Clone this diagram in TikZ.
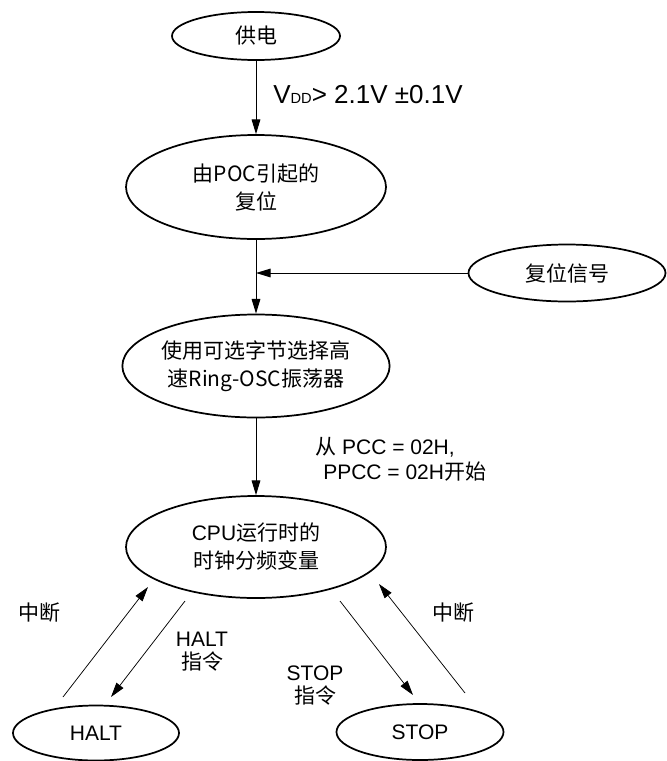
\documentclass[tikz,border=0pt]{standalone}
\usepackage{fontspec}
\setmainfont{Liberation Sans}
\newfontfamily\cjk{Noto Sans CJK SC}
\usetikzlibrary{shapes.geometric, arrows.meta, calc}

\tikzset{
  state/.style={draw, ellipse, line width=1.3pt, inner sep=0pt, align=center,
    font=\fontsize{15.75}{21}\selectfont},
  flow/.style={-{Triangle[length=11pt,width=6.5pt]}, line width=0.75pt},
  thinflow/.style={-{Triangle[length=11pt,width=6.5pt]}, line width=0.55pt},
  txt/.style={inner sep=0pt, align=center, font=\fontsize{15.75}{17.25}\selectfont}
}

\begin{document}
\begin{tikzpicture}[x=0.75pt, y=-0.75pt]
\useasboundingbox (0,0) rectangle (667,761);

% 椭圆
\node[state, minimum width=126pt, minimum height=36pt] (power) at (256,36) {{\cjk 供电}};
\node[state, minimum width=195pt, minimum height=78pt] (poc) at (256,187) {{\cjk 由POC引起的}\\{\cjk 复位}};
\node[state, minimum width=147.75pt, minimum height=42.75pt] (rstsig) at (567,273) {{\cjk 复位信号}};
\node[state, minimum width=195pt, minimum height=77.25pt] (ringosc) at (256,366) {{\cjk 使用可选字节选择高}\\{\cjk 速Ring-OSC振荡器}};
\node[state, minimum width=195pt, minimum height=76.5pt] (cpuclk) at (256,547) {CPU{\cjk 运行时的}\\{\cjk 时钟分频变量}};
\node[state, minimum width=124.5pt, minimum height=41.25pt] (halt) at (96,733) {HALT};
\node[state, minimum width=125.25pt, minimum height=42pt] (stop) at (420,732) {STOP};

% 竖直箭头
\draw[flow] (power) -- (poc);
\coordinate (join) at (poc.south |- rstsig.west);
\draw[line width=0.75pt] (poc) -- (join);
\draw[flow] (join) -- (ringosc);
\draw[flow] (rstsig) -- (join);
\draw[flow] (ringosc) -- (cpuclk);

% 标注
\node[txt, anchor=west, font=\fontsize{19.5}{21}\selectfont] (vddlbl) at (273,95)
  {V{\fontsize{11}{11}\selectfont DD}> 2.1V ±0.1V};
\node[txt, anchor=west, align=left, font=\fontsize{15.75}{18.75}\selectfont] (pcclbl) at (315,459.5)
  {{\cjk 从} PCC = 02H,\\\hspace*{6pt}PPCC = 02H{\cjk 开始}};

% 斜向箭头
\coordinate (haltirq0) at (63,697);
\coordinate (haltirq1) at (148,587);
\coordinate (haltins0) at (185,601);
\coordinate (haltins1) at (111,697);
\coordinate (stopins0) at (340,601);
\coordinate (stopins1) at (413,695);
\coordinate (stopirq0) at (465,693);
\coordinate (stopirq1) at (379,584);
\draw[thinflow] (haltirq0) -- (haltirq1);
\draw[thinflow] (haltins0) -- (haltins1);
\draw[thinflow] (stopins0) -- (stopins1);
\draw[thinflow] (stopirq0) -- (stopirq1);

\node[txt] (irqL) at (39,613) {{\cjk 中断}};
\node[txt] (haltlbl) at (202,651.5) {HALT\\{\cjk 指令}};
\node[txt] (stoplbl) at (315,686) {STOP\\{\cjk 指令}};
\node[txt] (irqR) at (453,613) {{\cjk 中断}};
\end{tikzpicture}
\end{document}
